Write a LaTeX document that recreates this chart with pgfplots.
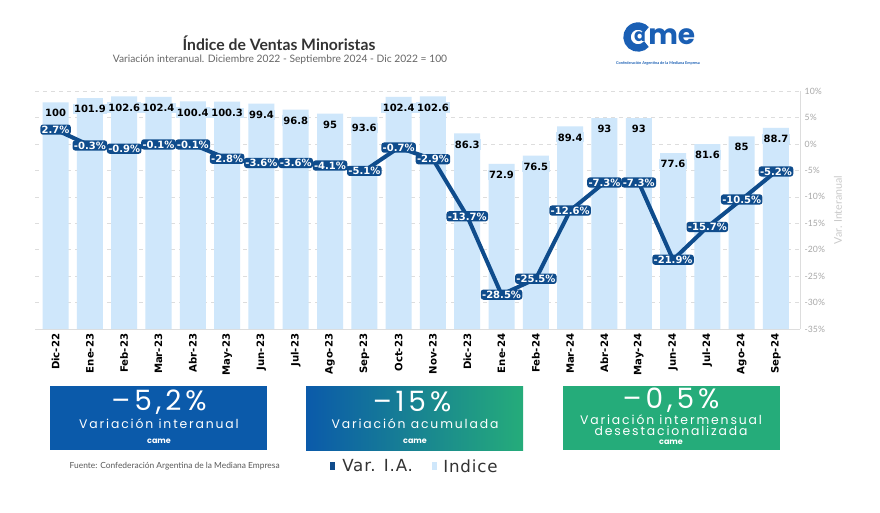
\documentclass[border=0pt]{standalone}
\usepackage{fontspec}
\setmainfont{DejaVu Sans}
\newfontfamily\lato{Lato}
\newfontfamily\pop{Poppins}
\newfontfamily\popbig[LetterSpace=14]{Poppins}
\newfontfamily\popls[LetterSpace=15]{Poppins}
\newfontfamily\leyenda[LetterSpace=5]{DejaVu Sans}
\usepackage{pgfplots}
\usepackage{pgfplotstable}
\pgfplotsset{compat=1.18}

\definecolor{barblue}{HTML}{CFE7FB}
\definecolor{linblue}{HTML}{0F4C8C}
\definecolor{boxblue}{HTML}{0B5AAA}
\definecolor{boxgreen}{HTML}{25AC7A}
\definecolor{gridgray}{HTML}{DDDDDD}
\definecolor{tickgray}{HTML}{A8A8A8}
\definecolor{logoblue}{HTML}{1A5FB4}

% indice (Dic 2022 = 100) y variacion interanual (%)
\pgfplotstableread{
x idx var
0 100 2.7
1 101.9 -0.3
2 102.6 -0.9
3 102.4 -0.1
4 100.4 -0.1
5 100.3 -2.8
6 99.4 -3.6
7 96.8 -3.6
8 95 -4.1
9 93.6 -5.1
10 102.4 -0.7
11 102.6 -2.9
12 86.3 -13.7
13 72.9 -28.5
14 76.5 -25.5
15 89.4 -12.6
16 93 -7.3
17 93 -7.3
18 77.6 -21.9
19 81.6 -15.7
20 85 -10.5
21 88.7 -5.2
}\datos

\begin{document}
\begin{tikzpicture}
\path[use as bounding box, fill=white] (0,0) rectangle (660pt,-384pt);

% barras: indice
\begin{axis}[
  at={(26.25pt,-246.75pt)}, anchor=south west,
  scale only axis, width=573.75pt, height=178.5pt,
  xmin=-0.6, xmax=21.7, ymin=0, ymax=105,
  axis x line*=bottom, axis y line*=left,
  x axis line style={gridgray},
  y axis line style={draw=none},
  xtick={0,...,21},
  xticklabels={Dic-22,Ene-23,Feb-23,Mar-23,Abr-23,May-23,Jun-23,Jul-23,Ago-23,Sep-23,Oct-23,Nov-23,Dic-23,Ene-24,Feb-24,Mar-24,Abr-24,May-24,Jun-24,Jul-24,Ago-24,Sep-24},
  xticklabel style={rotate=90, anchor=east, font=\bfseries\fontsize{7.6}{8}\selectfont},
  ytick={0,11.6667,23.3333,35,46.6667,58.3333,70,81.6667,93.3333,105},
  yticklabels={},
  major tick length=0pt,
  ymajorgrids, grid style={gridgray, dash pattern=on 3pt off 3pt},
  clip=false,
]
\addplot[ybar, bar width=19.5pt, fill=barblue, draw=none,
  point meta=explicit symbolic,
  nodes near coords,
  nodes near coords style={anchor=center, yshift=-8.25pt, fill=barblue, inner sep=1pt,
    text=black, font=\bfseries\fontsize{7.5}{8}\selectfont}]
  table[x=x, y=idx, meta=idx] {\datos};
\end{axis}

% linea: variacion interanual
\begin{axis}[
  at={(26.25pt,-246.75pt)}, anchor=south west,
  scale only axis, width=573.75pt, height=178.5pt,
  xmin=-0.6, xmax=21.7, ymin=-35, ymax=10,
  axis x line=none, axis y line*=right,
  y axis line style={gridgray},
  ytick={-35,-30,...,10},
  yticklabel={\pgfmathprintnumber{\tick}\%},
  /pgf/number format/assume math mode=true,
  yticklabel style={text=tickgray, font=\lato\fontsize{6.5}{7}\selectfont},
  ylabel={Var. Interanual},
  ylabel style={text=gridgray!80!gray, font=\lato\fontsize{8}{9}\selectfont},
  major tick length=0pt,
  clip=false,
]
\addplot[linblue, line width=3pt, mark=none,
  point meta=explicit symbolic,
  nodes near coords={\pgfplotspointmeta\%},
  nodes near coords style={anchor=center, fill=linblue, text=white, rounded corners=2pt,
    inner sep=1pt, font=\bfseries\fontsize{7.5}{8}\selectfont}]
  table[x=x, y=var, meta=var] {\datos};
\end{axis}

\begin{scope}[x=0.75pt, y=-0.75pt]
% titulos
\node[text=black!80, font=\lato\bfseries\fontsize{11.8}{12}\selectfont] at (279,43) {Índice de Ventas Minoristas};
\node[text=black!60, font=\lato\fontsize{7.7}{9}\selectfont] at (280,60) {Variación interanual. Diciembre 2022 - Septiembre 2024 - Dic 2022 = 100};

% logo
\draw[logoblue, line width=5.5pt] (638,37) ++(40:11) arc (40:320:11);
\node[text=logoblue, font=\pop\bfseries\fontsize{13}{13}\selectfont, inner sep=0pt] at (640,37) {a};
\node[anchor=west, text=logoblue, font=\pop\bfseries\fontsize{21}{21}\selectfont, inner sep=0pt] at (648,37) {me};
\node[text=logoblue, font=\lato\bfseries\fontsize{2.9}{3}\selectfont] at (658,63) {Confederación Argentina de la Mediana Empresa};

% recuadros
\fill[boxblue] (50,386) rectangle (267,450);
\shade[left color=boxblue, right color=boxgreen] (306,386) rectangle (523,450);
\fill[boxgreen] (563,386) rectangle (780,450);

\node[text=white, font=\popbig\fontsize{21}{22}\selectfont] at (159,402) {–5,2\%};
\node[text=white, font=\popls\fontsize{9.3}{10}\selectfont] at (159,424) {Variación interanual};
\node[text=white, font=\pop\bfseries\fontsize{6}{6}\selectfont] at (159,441) {came};

\node[text=white, font=\popbig\fontsize{21}{22}\selectfont] at (412,402) {–15\%};
\node[text=white, font=\popls\fontsize{9.3}{10}\selectfont] at (415,424) {Variación acumulada};
\node[text=white, font=\pop\bfseries\fontsize{6}{6}\selectfont] at (415,441) {came};

\node[text=white, font=\popbig\fontsize{21}{22}\selectfont] at (671,400) {–0,5\%};
\node[text=white, font=\popls\fontsize{9.3}{10}\selectfont] at (671,420) {Variación intermensual};
\node[text=white, font=\popls\fontsize{9.3}{10}\selectfont] at (671,431) {desestacionalizada};
\node[text=white, font=\pop\bfseries\fontsize{6}{6}\selectfont] at (671,442) {came};

% fuente y leyenda
\node[anchor=west, text=black!65, font=\lato\fontsize{6.3}{7}\selectfont] at (65,466) {Fuente: Confederación Argentina de la Mediana Empresa};
\fill[linblue] (330,462) rectangle (335,470);
\node[anchor=west, text=black!80, font=\leyenda\fontsize{12.5}{13}\selectfont, inner sep=0pt] at (342,466) {Var. I.A.};
\fill[barblue] (432,462) rectangle (437,470);
\node[anchor=west, text=black!80, font=\leyenda\fontsize{12.5}{13}\selectfont, inner sep=0pt] at (443,466) {Indice};
\end{scope}
\end{tikzpicture}
\end{document}
